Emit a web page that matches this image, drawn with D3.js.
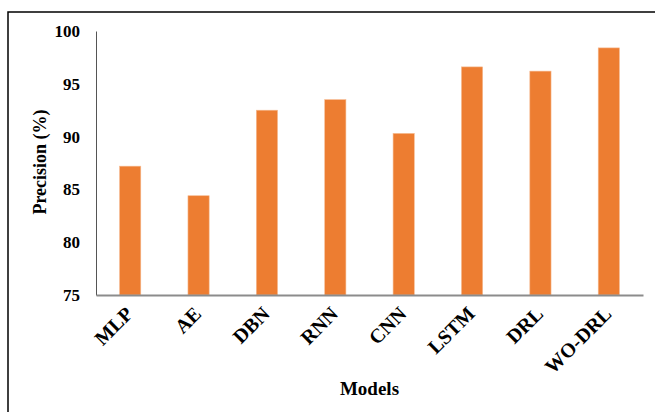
<!DOCTYPE html>
<html>
<head>
<meta charset="utf-8">
<script src="https://cdn.jsdelivr.net/npm/d3@7"></script>
<style>
  html, body { margin: 0; padding: 0; background: #fff; }
  svg { display: block; }
  svg text { font-family: "Liberation Serif", "Times New Roman", Times, "DejaVu Serif", serif !important; font-weight: bold; fill: #000; }
</style>
</head>
<body>
<svg id="chart" width="655" height="412"></svg>
<script>
// Precision of each model (%)
const models = ["MLP", "AE", "DBN", "RNN", "CNN", "LSTM", "DRL", "WO-DRL"];
const precision = [87.2, 84.4, 92.5, 93.5, 90.3, 96.6, 96.2, 98.4];
const yTicks = [75, 80, 85, 90, 95, 100];

const svg = d3.select("#chart");
const plot = { left: 96, right: 643, top: 31, bottom: 295 };

// Outer frame
svg.append("path")
  .attr("d", "M8,412 V12 H655")
  .attr("fill", "none")
  .attr("stroke", "#000")
  .attr("stroke-width", 1.5);

const x = d3.scaleBand()
  .domain(models)
  .range([plot.left, plot.right])
  .paddingInner(0.69)
  .paddingOuter(0.345);

const y = d3.scaleLinear()
  .domain([75, 100])
  .range([plot.bottom, plot.top]);

// Bars
svg.append("g")
  .selectAll("rect")
  .data(models)
  .join("rect")
  .attr("x", d => x(d))
  .attr("width", x.bandwidth())
  .attr("y", (d, i) => y(precision[i]))
  .attr("height", (d, i) => y(75) - y(precision[i]))
  .attr("fill", "#ED7D31")
  .attr("stroke", "#F6B98F")
  .attr("stroke-width", 0.6);

// Y axis
const yAxis = svg.append("g")
  .attr("transform", `translate(${plot.left},0)`)
  .call(d3.axisLeft(y).tickValues(yTicks).tickSize(0).tickPadding(16));
yAxis.attr("font-family", null).attr("font-size", 17);
yAxis.select(".domain").attr("stroke", "#555").attr("stroke-width", 1);

// X axis
const xAxis = svg.append("g")
  .attr("transform", `translate(0,${plot.bottom})`)
  .call(d3.axisBottom(x).tickSize(0).tickPadding(0));
xAxis.attr("font-family", null).attr("font-size", 20);
xAxis.select(".domain").attr("stroke", "#8c8c8c").attr("stroke-width", 1.8);
xAxis.selectAll("text")
  .attr("text-anchor", "end")
  .attr("dy", null)
  .attr("y", 0)
  .attr("transform", "translate(4,20) rotate(-45)");

// Axis titles
svg.append("text")
  .attr("transform", "translate(46,162) rotate(-90)")
  .attr("text-anchor", "middle")
  .attr("font-size", 18)
  .text("Precision (%)");

svg.append("text")
  .attr("x", (plot.left + plot.right) / 2)
  .attr("y", 395)
  .attr("text-anchor", "middle")
  .attr("font-size", 19)
  .text("Models");
</script>
</body>
</html>
